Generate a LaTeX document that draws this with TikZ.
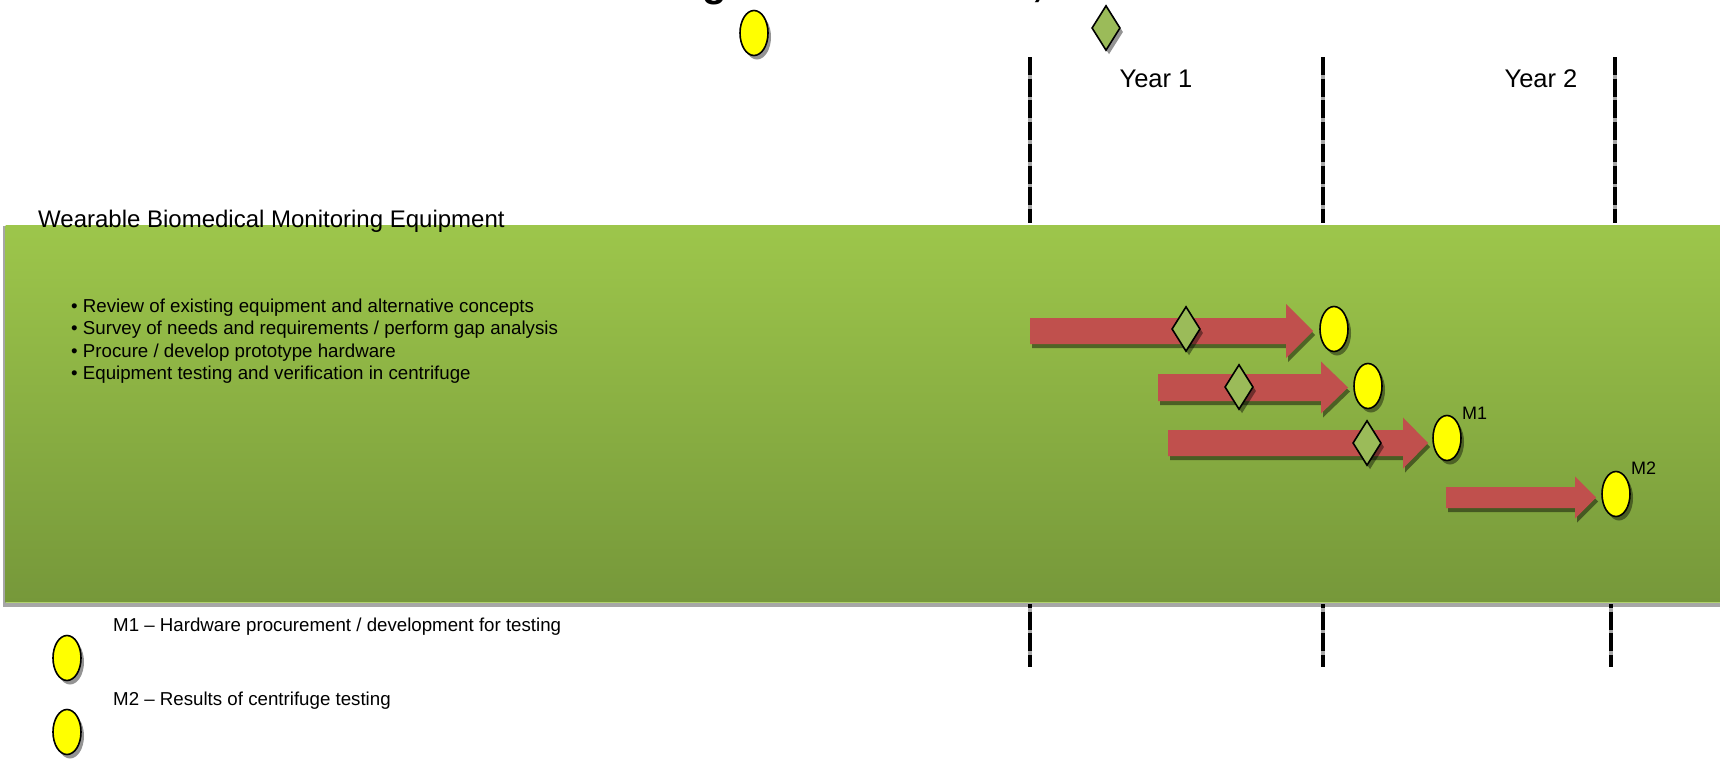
\documentclass[tikz,border=0pt]{standalone}
\usepackage{fontspec}
\setmainfont{Liberation Sans}
\usetikzlibrary{shapes.geometric,shadows}

\definecolor{barred}{HTML}{C0504D}
\definecolor{bandtop}{HTML}{9DC64B}
\definecolor{bandbot}{HTML}{76983A}
\definecolor{gatefill}{HTML}{9BBB59}
\definecolor{msyellow}{HTML}{FFFF00}
\definecolor{shadowgray}{HTML}{A6A6A6}

\tikzset{
  softshadow/.style={drop shadow={shadow xshift=3pt,shadow yshift=-4pt,fill=black,opacity=.42}},
  milestone/.style={ellipse,draw=black,line width=1.6pt,fill=msyellow,
    minimum width=28pt,minimum height=45pt,inner sep=0pt,softshadow},
  gate/.style={diamond,draw=black,line width=1.6pt,fill=gatefill,
    minimum width=28.5pt,minimum height=45pt,inner sep=0pt,softshadow},
  yearlbl/.style={font=\fontsize{25.5}{30}\selectfont,inner sep=0pt,anchor=base},
  bodytext/.style={font=\fontsize{18.7}{22.5}\selectfont,inner sep=0pt,anchor=base west},
  msmark/.style={font=\fontsize{18}{22}\selectfont,inner sep=0pt,anchor=base west},
  yearline/.style={line width=4.6pt,dash pattern=on 18pt off 3.7pt},
  yearlinebg/.style={line width=4.6pt,shadowgray},
}

% Gantt bar: tail x, centre y, half shaft, head base x, half head, tip x
\newcommand\ganttbar[6]{%
  \fill[black,opacity=.45,xshift=2pt,yshift=-4pt]
    (#1,#2-#3) -- (#4,#2-#3) -- (#4,#2-#5) -- (#6,#2) -- (#4,#2+#5) -- (#4,#2+#3) -- (#1,#2+#3) -- cycle;
  \fill[barred]
    (#1,#2-#3) -- (#4,#2-#3) -- (#4,#2-#5) -- (#6,#2) -- (#4,#2+#5) -- (#4,#2+#3) -- (#1,#2+#3) -- cycle;
}

\begin{document}
\begin{tikzpicture}[x=1pt,y=-1pt]
\useasboundingbox (0,0) rectangle (1720,758);
\clip (0,0) rectangle (1720,758);
\fill[white] (0,0) rectangle (1720,758);

% heading, only its lowest strokes fall inside the page
\node[font=\bfseries\fontsize{40}{44}\selectfont,inner sep=0pt,anchor=base] (headg) at (715,-3.4) {g};
\node[font=\bfseries\fontsize{40}{44}\selectfont,inner sep=0pt,anchor=base] (headc) at (1038,-3.4) {,};

% key symbols at the top
\node[milestone] (keyms) at (754,33) {};
\node[gate] (keygate) at (1106,28) {};

% year boundaries above the band
\foreach \xx in {1030,1323,1615}{
  \draw[yearlinebg] (\xx,57) -- (\xx,223);
  \draw[yearline] (\xx,57) -- (\xx,223);
}
\node[yearlbl] (year1) at (1156,87) {Year 1};
\node[yearlbl] (year2) at (1541,87) {Year 2};

% green task band
\fill[shadowgray] (3,226) rectangle (1725,607);
\shade[top color=bandtop,bottom color=bandbot] (5.5,225) rectangle (1725,602);
\fill[bandtop!80!white] (5.5,601.5) rectangle (1725,603);

\node[font=\fontsize{24}{28}\selectfont,inner sep=0pt,anchor=base west] (task) at (38,227)
  {Wearable Biomedical Monitoring Equipment};

\node[bodytext] (b1) at (71,312) {• Review of existing equipment and alternative concepts};
\node[bodytext] (b2) at (71,334.5) {• Survey of needs and requirements / perform gap analysis};
\node[bodytext] (b3) at (71,357) {• Procure / develop prototype hardware};
\node[bodytext] (b4) at (71,379.5) {• Equipment testing and verification in centrifuge};

% schedule bars
\ganttbar{1030}{331}{13}{1286}{27}{1313}
\ganttbar{1158}{387.5}{13.5}{1321}{26}{1348}
\ganttbar{1168}{443}{13}{1403}{25.5}{1428}
\ganttbar{1446}{497.5}{10.5}{1575}{21}{1596}

\node[gate] (g1) at (1186,329) {};
\node[gate] (g2) at (1239,387) {};
\node[gate] (g3) at (1367,443) {};

\node[milestone] (m1a) at (1334,329) {};
\node[milestone] (m1b) at (1368,386) {};
\node[milestone] (m1c) at (1447,438) {};
\node[milestone] (m2) at (1616,494) {};
\node[msmark] (m1lbl) at (1462,419) {M1};
\node[msmark] (m2lbl) at (1631,474) {M2};

% year boundaries below the band
\foreach \xx/\xb in {1030/1030,1323/1323,1615/1611}{
  \draw[yearlinebg] (\xb,604) -- (\xb,667);
  \draw[yearline,dash phase=14pt] (\xb,604) -- (\xb,667);
}

% key
\node[milestone] (k1) at (67,658) {};
\node[milestone] (k2) at (67,732) {};
\node[bodytext] (k1txt) at (113,631.5) {M1 – Hardware procurement / development for testing};
\node[bodytext] (k2txt) at (113,705.5) {M2 – Results of centrifuge testing};
\end{tikzpicture}
\end{document}
